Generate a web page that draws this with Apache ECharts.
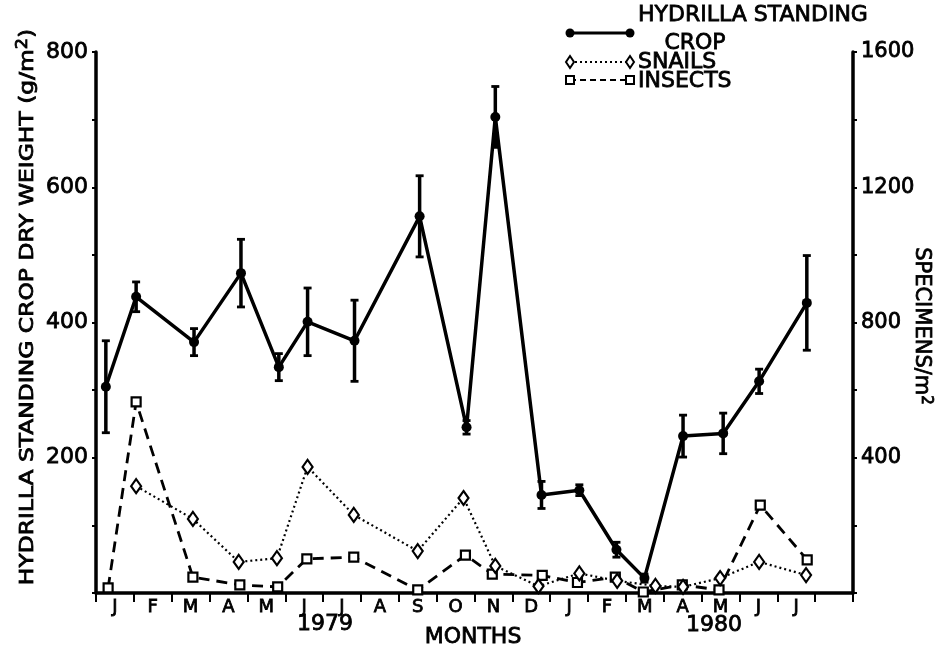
<!DOCTYPE html>
<html>
<head>
<meta charset="utf-8">
<script src="https://cdn.jsdelivr.net/npm/echarts@6/dist/echarts.min.js"></script>
<style>html,body{margin:0;padding:0;background:#fff;}#c{width:938px;height:648px;}</style>
</head>
<body>
<div id="c"></div>
<script>
// Month band labels (one band per month; 20th band is blank)
const months = ['J','F','M','A','M','J','J','A','S','O','N','D','J','F','M','A','M','J','J',''];
const yearLabels = ['1979','1980'];

// Sampling positions, in month-band units from the start of Jan 1979
const hydT = [0.26, 1.06, 2.59, 3.83, 4.83, 5.59, 6.83, 8.55, 9.79, 10.55, 11.77, 12.77, 13.75, 14.49, 15.51, 16.57, 17.52, 18.78];
// Hydrilla standing crop (g/m2) and error half-widths
const hydVal = [305, 438, 371, 473, 334, 401, 373, 557, 245, 704, 145, 152, 64, 22, 232, 236, 313, 429];
const hydErr = [68, 22, 20, 50, 20, 50, 60, 60, 10, 45, 20, 8, 11, 6, 31, 30, 18, 70];

// Snails (specimens/m2)
const snailT = [1.06, 2.56, 3.77, 4.78, 5.59, 6.81, 8.50, 9.71, 10.55, 11.69, 12.77, 13.77, 14.78, 15.51, 16.49, 17.52, 18.76];
const snailVal = [316, 219, 92, 103, 373, 231, 124, 281, 80, 20, 58, 36, 21, 18, 44, 92, 53];

// Insects (specimens/m2)
const insT = [0.32, 1.06, 2.56, 3.80, 4.80, 5.57, 6.81, 8.50, 9.76, 10.47, 11.79, 12.72, 13.72, 14.46, 15.49, 16.46, 17.55, 18.79];
const insVal = [15, 565, 47, 24, 18, 101, 106, 9, 112, 56, 52, 31, 47, 3, 24, 9, 260, 98];

const FONT = 'DejaVu Sans';
const TB = 0.8; // text thickening
const chart = echarts.init(document.getElementById('c'), null, {renderer: 'canvas'});

const pairs = (t, v) => t.map((x, i) => [x, v[i]]);
const diamond = 'path://M0,-1 L0.7,0 L0,1 L-0.7,0 Z';
const txt = (size) => ({fontFamily: FONT, fontSize: size, fill: '#000', stroke: '#000', lineWidth: TB});

const axisLabelStyle = (size, margin) => ({color: '#000', fontFamily: FONT, fontSize: size, margin: margin,
  textBorderColor: '#000', textBorderWidth: TB});

const option = {
  backgroundColor: '#fff',
  animation: false,
  grid: {left: 96, right: 85, top: 52, bottom: 55, containLabel: false},
  xAxis: [
    {
      type: 'category', data: months, boundaryGap: true, position: 'bottom',
      axisLine: {show: true, lineStyle: {color: '#000', width: 3.5}},
      axisTick: {show: true, inside: false, length: 9, lineStyle: {color: '#000', width: 2}},
      axisLabel: Object.assign(axisLabelStyle(18, 5), {interval: 0}),
      splitLine: {show: false}
    },
    {type: 'value', min: 0, max: 20, show: false}
  ],
  yAxis: [
    {
      type: 'value', min: 0, max: 800, interval: 200, position: 'left',
      axisLine: {show: true, lineStyle: {color: '#000', width: 3.5}},
      axisTick: {show: true, inside: false, length: 4, lineStyle: {color: '#000', width: 2}},
      minorTick: {show: true, splitNumber: 2, length: 4, lineStyle: {color: '#000', width: 2}},
      axisLabel: Object.assign(axisLabelStyle(22, 8), {formatter: v => v === 0 ? '' : String(v)}),
      splitLine: {show: false}
    },
    {
      type: 'value', min: 0, max: 1600, interval: 400, position: 'right',
      axisLine: {show: true, lineStyle: {color: '#000', width: 3.5}},
      axisTick: {show: true, inside: false, length: 4, lineStyle: {color: '#000', width: 2}},
      minorTick: {show: true, splitNumber: 2, length: 4, lineStyle: {color: '#000', width: 2}},
      axisLabel: Object.assign(axisLabelStyle(21, 8), {formatter: v => v === 0 ? '' : String(v)}),
      splitLine: {show: false}
    }
  ],
  series: [
    {
      name: 'INSECTS', type: 'line', xAxisIndex: 1, yAxisIndex: 1,
      data: pairs(insT, insVal),
      symbol: 'rect', symbolSize: 9,
      itemStyle: {color: '#fff', borderColor: '#000', borderWidth: 2.2},
      lineStyle: {color: '#000', width: 2.8, type: [11, 7]},
      z: 3
    },
    {
      name: 'SNAILS', type: 'line', xAxisIndex: 1, yAxisIndex: 1,
      data: pairs(snailT, snailVal),
      symbol: diamond, symbolSize: [10, 14],
      itemStyle: {color: '#fff', borderColor: '#000', borderWidth: 2.2},
      lineStyle: {color: '#000', width: 2.2, type: [2, 3]},
      z: 4
    },
    {
      name: 'HYDRILLA', type: 'line', xAxisIndex: 1, yAxisIndex: 0,
      data: pairs(hydT, hydVal),
      symbol: 'circle', symbolSize: 10,
      itemStyle: {color: '#000'},
      lineStyle: {color: '#000', width: 3.5},
      z: 5
    },
    {
      name: 'HYDRILLA_ERR', type: 'custom', xAxisIndex: 1, yAxisIndex: 0,
      data: hydT.map((t, i) => [t, hydVal[i], hydErr[i]]),
      encode: {x: 0, y: 1},
      z: 6,
      renderItem: function (params, api) {
        const x = api.value(0), y = api.value(1), e = api.value(2);
        const top = api.coord([x, y + e]);
        const bot = api.coord([x, y - e]);
        const w = 4;
        const cap = {stroke: '#000', lineWidth: 2.8};
        return {type: 'group', children: [
          {type: 'line', shape: {x1: top[0], y1: top[1], x2: bot[0], y2: bot[1]}, style: {stroke: '#000', lineWidth: 3.5}},
          {type: 'line', shape: {x1: top[0] - w, y1: top[1], x2: top[0] + w, y2: top[1]}, style: cap},
          {type: 'line', shape: {x1: bot[0] - w, y1: bot[1], x2: bot[0] + w, y2: bot[1]}, style: cap}
        ]};
      }
    }
  ],
  graphic: [
    // left axis title
    {type: 'text', x: 28, y: 307, rotation: Math.PI / 2, scaleX: 1.17,
      style: {text: '{a|HYDRILLA STANDING CROP DRY WEIGHT (g/m}{s|2}{a|)}', textAlign: 'center', textVerticalAlign: 'middle',
        rich: {a: txt(20), s: Object.assign(txt(15), {padding: [0, 0, 10, 0]})}}},
    // right axis title
    {type: 'text', x: 921, y: 326, rotation: -Math.PI / 2,
      style: {text: '{a|SPECIMENS/m}{s|2}', textAlign: 'center', textVerticalAlign: 'middle',
        rich: {a: txt(21), s: Object.assign(txt(15), {padding: [0, 0, 10, 0]})}}},
    // x titles
    {type: 'text', x: 325, y: 624, style: Object.assign(txt(22), {text: yearLabels[0], textAlign: 'center', textVerticalAlign: 'middle'})},
    {type: 'text', x: 714, y: 625, style: Object.assign(txt(22), {text: yearLabels[1], textAlign: 'center', textVerticalAlign: 'middle'})},
    {type: 'text', x: 473, y: 637, style: Object.assign(txt(22), {text: 'MONTHS', textAlign: 'center', textVerticalAlign: 'middle'})},
    // legend
    {type: 'line', shape: {x1: 570, y1: 33, x2: 630, y2: 33}, style: {stroke: '#000', lineWidth: 3}},
    {type: 'circle', shape: {cx: 570, cy: 33, r: 4.5}, style: {fill: '#000'}},
    {type: 'circle', shape: {cx: 630, cy: 33, r: 4.5}, style: {fill: '#000'}},
    {type: 'text', x: 638, y: 15, style: Object.assign(txt(22), {text: 'HYDRILLA STANDING', textAlign: 'left', textVerticalAlign: 'middle'})},
    {type: 'text', x: 695, y: 43, style: Object.assign(txt(22), {text: 'CROP', textAlign: 'center', textVerticalAlign: 'middle'})},
    {type: 'line', shape: {x1: 570, y1: 62, x2: 630, y2: 62}, style: {stroke: '#000', lineWidth: 2, lineDash: [2, 3]}},
    {type: 'polygon', shape: {points: [[570, 56], [574, 62], [570, 68], [566, 62]]}, style: {fill: '#fff', stroke: '#000', lineWidth: 2}},
    {type: 'polygon', shape: {points: [[630, 56], [634, 62], [630, 68], [626, 62]]}, style: {fill: '#fff', stroke: '#000', lineWidth: 2}},
    {type: 'text', x: 638, y: 62, style: Object.assign(txt(22), {text: 'SNAILS', textAlign: 'left', textVerticalAlign: 'middle'})},
    {type: 'line', shape: {x1: 570, y1: 80, x2: 630, y2: 80}, style: {stroke: '#000', lineWidth: 2, lineDash: [6, 4]}},
    {type: 'rect', shape: {x: 566, y: 76, width: 8, height: 8}, style: {fill: '#fff', stroke: '#000', lineWidth: 2}},
    {type: 'rect', shape: {x: 626, y: 76, width: 8, height: 8}, style: {fill: '#fff', stroke: '#000', lineWidth: 2}},
    {type: 'text', x: 638, y: 81, style: Object.assign(txt(22), {text: 'INSECTS', textAlign: 'left', textVerticalAlign: 'middle'})}
  ]
};
chart.setOption(option);
</script>
</body>
</html>
